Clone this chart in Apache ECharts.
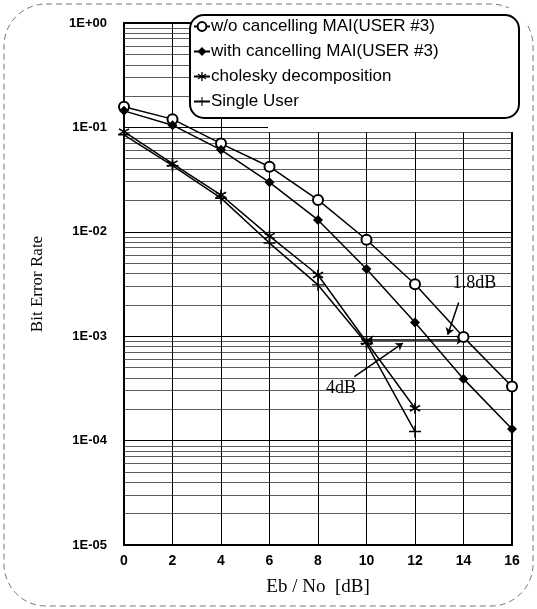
<!DOCTYPE html>
<html>
<head>
<meta charset="utf-8">
<script src="https://cdn.jsdelivr.net/npm/echarts@6/dist/echarts.min.js"></script>
<style>
  html, body { margin: 0; padding: 0; background: #fff; }
  #chart { width: 537px; height: 609px; }
</style>
</head>
<body>
<div id="chart"></div>
<script>
// Eb/No values (dB)
const ebNo = [0, 2, 4, 6, 8, 10, 12, 14, 16]
const ebNoShort = [0, 2, 4, 6, 8, 10, 12]

// BER
const woCancel = [0.158, 0.12, 0.070, 0.042, 0.0202, 0.0084, 0.00314, 0.00098, 0.00033]
const withCancel = [0.144, 0.105, 0.061, 0.0298, 0.013, 0.0044, 0.00135, 0.00039, 0.000129]
const cholesky = [0.091, 0.045, 0.0225, 0.0091, 0.00386, 0.00088, 0.000204]
const singleUser = [0.085, 0.043, 0.021, 0.0078, 0.0031, 0.00085, 0.000122]

const seriesNames = [
  'w/o cancelling MAI(USER #3)',
  'with cancelling MAI(USER #3)',
  'cholesky decomposition',
  'Single User'
]

// minor grid lines of the log axis (2..9 x 10^k), as exponents
const minorExp = []
for (let k = -5; k < 0; k++) {
  for (let m = 2; m <= 9; m++) minorExp.push(k + Math.log10(m))
}

const pairs = (xs, ys) => ys.map((y, i) => [xs[i], y])

// marker shapes
const diamondPath = 'path://M5,0 L10,5 L5,10 L0,5 Z'
const plusPath = 'path://M4.4,0 L5.6,0 L5.6,4.4 L10,4.4 L10,5.6 L5.6,5.6 L5.6,10 L4.4,10 L4.4,5.6 L0,5.6 L0,4.4 L4.4,4.4 Z'
const starPath = 'path://M4.3,0 L5.7,0 L5.7,10 L4.3,10 Z ' +
  'M1.02,1.89 L9.68,6.89 L8.98,8.11 L0.32,3.11 Z ' +
  'M0.32,6.89 L8.98,1.89 L9.68,3.11 L1.02,8.11 Z'

const chart = echarts.init(document.getElementById('chart'))

const lineStyle = { color: '#000', width: 1.5 }

const option = {
  backgroundColor: '#fff',
  animation: false,
  grid: {
    left: 124,
    right: 25,
    top: 23,
    bottom: 64,
    show: true,
    borderColor: '#000',
    borderWidth: 2,
    backgroundColor: 'transparent'
  },
  legend: {
    orient: 'vertical',
    left: 191,
    top: 16,
    z: 30,
    itemGap: 8,
    itemWidth: 16,
    itemHeight: 11,
    padding: 2,
    textStyle: {
      fontFamily: 'Liberation Sans, Arial',
      fontSize: 17,
      color: '#000',
      padding: [0, 0, 0, -4]
    },
    data: seriesNames
  },
  graphic: [
    {
      // dashed frame of the figure
      type: 'rect',
      shape: { x: 4, y: 4, width: 529, height: 602, r: 42 },
      style: { fill: 'none', stroke: '#777', lineWidth: 1, lineDash: [6, 4] },
      z: 0
    },
    {
      // blank area behind the legend
      type: 'rect',
      shape: { x: 268, y: 8, width: 258, height: 124 },
      style: { fill: '#fff' },
      z: 20
    },
    {
      type: 'rect',
      shape: { x: 190, y: 15, width: 329, height: 103, r: 14 },
      style: { fill: '#fff', stroke: '#000', lineWidth: 2 },
      z: 21
    }
  ],
  xAxis: {
    type: 'value',
    min: 0,
    max: 16,
    interval: 2,
    name: 'Eb / No  [dB]',
    nameLocation: 'middle',
    nameGap: 33,
    nameTextStyle: { fontFamily: 'Liberation Serif, Times New Roman', fontSize: 19, color: '#000' },
    axisLine: { lineStyle: { color: '#000', width: 2 } },
    axisTick: { show: false },
    axisLabel: { fontFamily: 'Liberation Sans, Arial', fontWeight: 'bold', fontSize: 14, color: '#000', margin: 9 },
    splitLine: { show: true, lineStyle: { color: '#000', width: 1 } }
  },
  yAxis: [
    {
      type: 'log',
      logBase: 10,
      min: 1e-5,
      max: 1,
      name: 'Bit Error Rate',
      nameLocation: 'middle',
      nameGap: 78,
      nameTextStyle: { fontFamily: 'Liberation Serif, Times New Roman', fontSize: 17, color: '#000' },
      axisLine: { lineStyle: { color: '#000', width: 2 } },
      axisTick: { show: false },
      axisLabel: {
        fontFamily: 'Liberation Sans, Arial',
        fontWeight: 'bold',
        fontSize: 13,
        color: '#000',
        margin: 17,
        formatter: v => {
          const e = Math.round(Math.log10(v))
          return '1E' + (e >= 0 ? '+' : '-') + String(Math.abs(e)).padStart(2, '0')
        }
      },
      splitLine: { show: true, lineStyle: { color: '#000', width: 1.2 } }
    },
    {
      // hidden linear exponent axis, only used for the minor grid lines
      type: 'value',
      min: -5,
      max: 0,
      show: false
    }
  ],
  series: [
    {
      name: 'minor grid',
      type: 'line',
      yAxisIndex: 1,
      data: [[0, -5]],
      symbol: 'none',
      lineStyle: { opacity: 0 },
      silent: true,
      z: 1,
      markLine: {
        silent: true,
        symbol: 'none',
        label: { show: false },
        lineStyle: { color: '#333', width: 0.8, type: 'solid' },
        data: minorExp.map(v => ({ yAxis: v }))
      }
    },
    {
      name: seriesNames[0],
      type: 'line',
      data: pairs(ebNo, woCancel),
      symbol: 'emptyCircle',
      symbolSize: 10,
      lineStyle: lineStyle,
      itemStyle: { color: '#000', borderWidth: 1.3 },
      z: 5
    },
    {
      name: seriesNames[1],
      type: 'line',
      data: pairs(ebNo, withCancel),
      symbol: diamondPath,
      symbolSize: 10,
      lineStyle: lineStyle,
      itemStyle: { color: '#000' },
      z: 5,
      markLine: {
        silent: true,
        symbol: ['arrow', 'arrow'],
        symbolSize: 7,
        label: { show: false },
        lineStyle: { color: '#000', width: 1.5, type: 'solid' },
        data: [
          [{ coord: [10, 0.00092] }, { coord: [14, 0.00092] }],
          [{ coord: [13.8, 0.0021], symbol: 'none' }, { coord: [13.35, 0.00103] }],
          [{ coord: [9.5, 0.00041], symbol: 'none' }, { coord: [11.5, 0.00086] }]
        ]
      },
      markPoint: {
        silent: true,
        symbol: 'circle',
        symbolSize: 0,
        label: {
          show: true,
          formatter: '{b}',
          fontFamily: 'Liberation Serif, Times New Roman',
          fontSize: 18,
          color: '#000'
        },
        data: [
          { name: '1.8dB', coord: [14.45, 0.0032] },
          { name: '4dB', coord: [8.95, 0.00032] }
        ]
      }
    },
    {
      name: seriesNames[2],
      type: 'line',
      data: pairs(ebNoShort, cholesky),
      symbol: starPath,
      symbolSize: 11,
      lineStyle: lineStyle,
      itemStyle: { color: '#000' },
      z: 5
    },
    {
      name: seriesNames[3],
      type: 'line',
      data: pairs(ebNoShort, singleUser),
      symbol: plusPath,
      symbolSize: 12,
      lineStyle: lineStyle,
      itemStyle: { color: '#000' },
      z: 5
    }
  ]
}

chart.setOption(option)
</script>
</body>
</html>
